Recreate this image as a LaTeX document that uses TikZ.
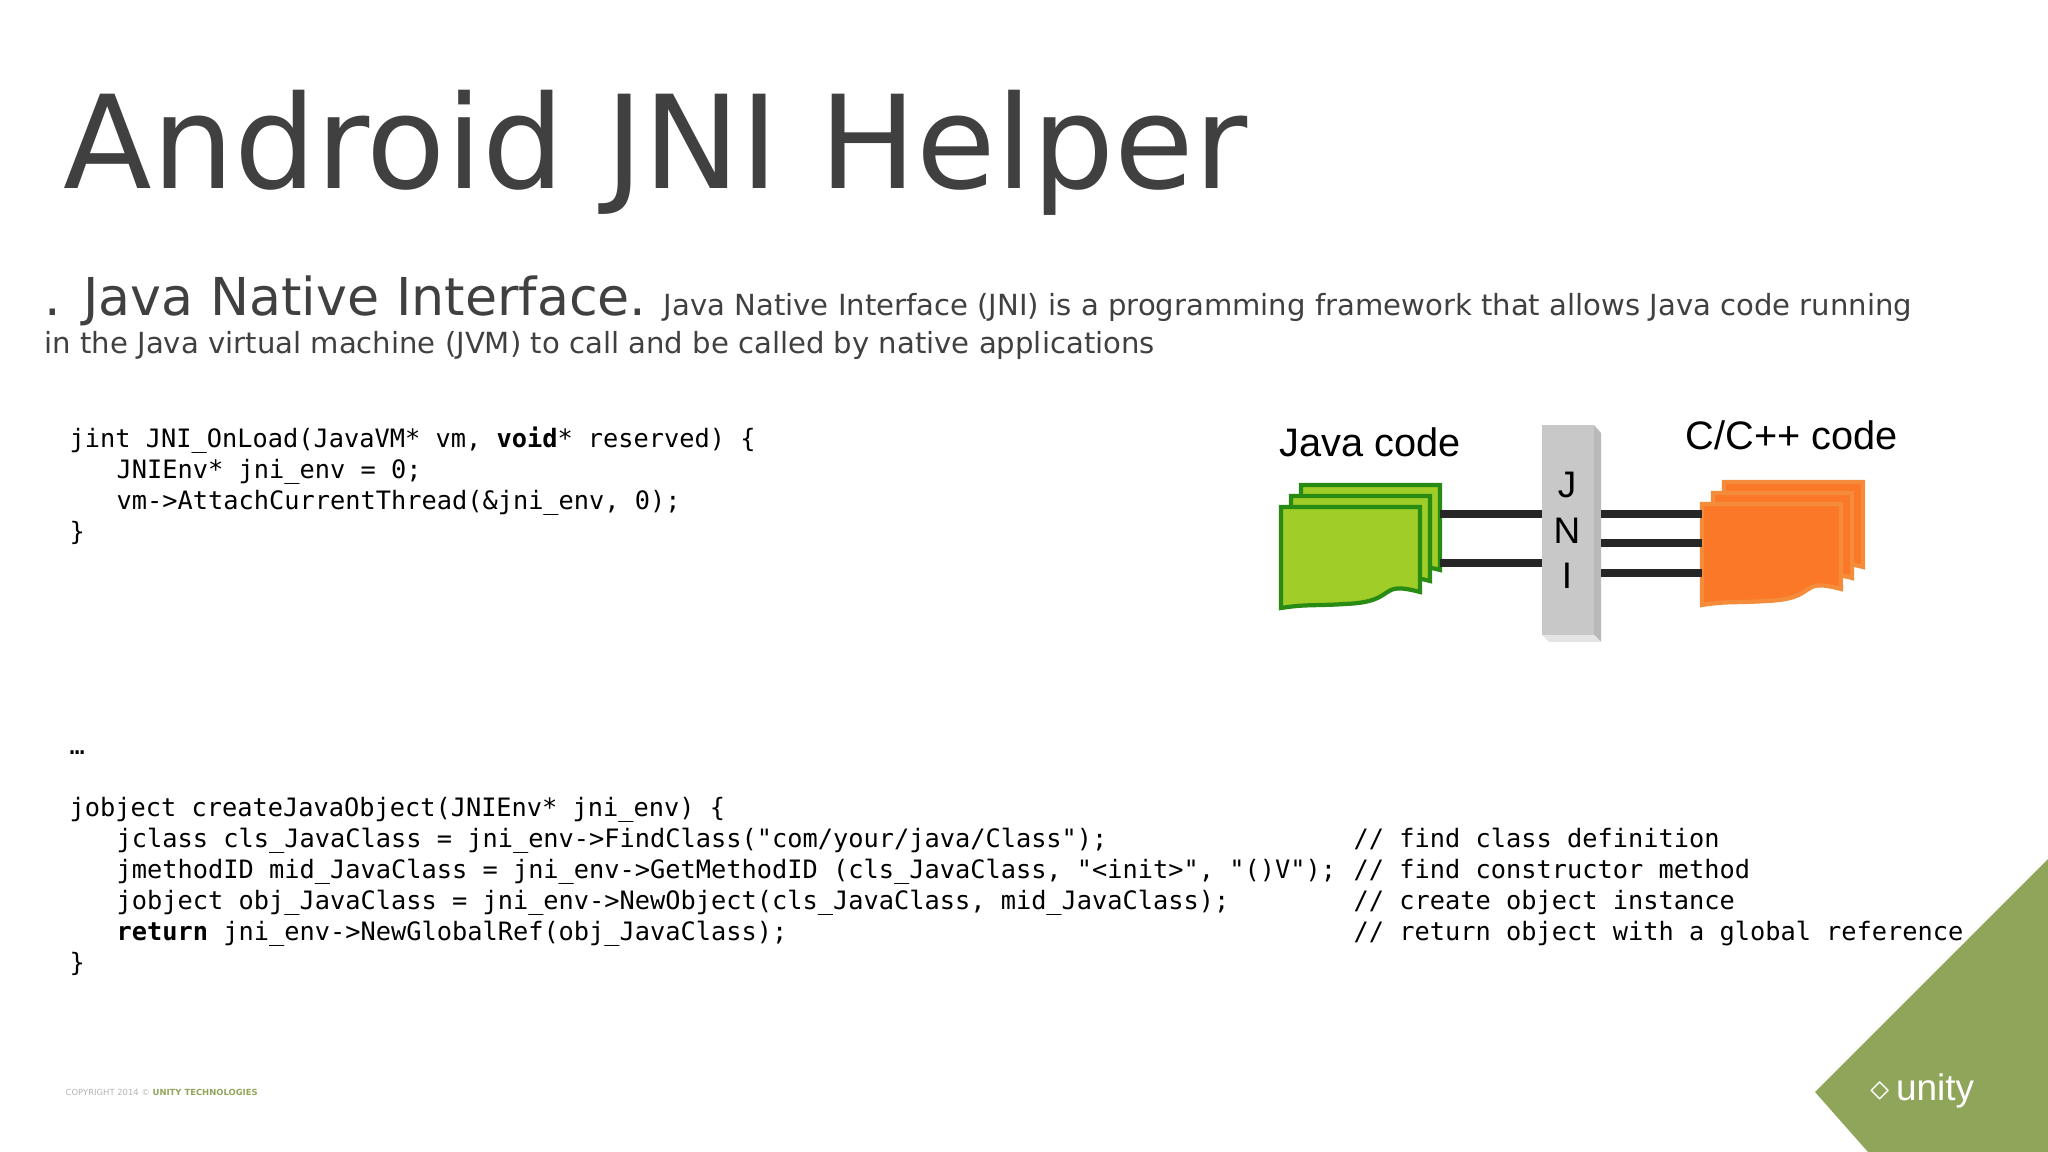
\documentclass[tikz,border=0pt]{standalone}
\usepackage{fontspec}
\setmainfont{DejaVu Sans}
\setmonofont{DejaVu Sans Mono}
\newfontfamily\arialfont{Liberation Sans}
\definecolor{titlegray}{RGB}{64,64,64}
\definecolor{javagreen}{RGB}{160,205,40}
\definecolor{javaedge}{RGB}{40,140,20}
\definecolor{cppfill}{RGB}{250,120,40}
\definecolor{cppedge}{RGB}{245,140,60}
\definecolor{barfill}{RGB}{200,200,200}
\definecolor{unitygreen}{RGB}{143,166,90}
\usetikzlibrary{positioning}

% one sheet of a code stack: left x, top y
\newcommand{\docsheet}[4]{%
  \draw[#3, fill=#4, line width=1.2pt] (#1,#2) -- ++(139,0) -- ++(0,85)
    .. controls ++(-45,-12) and ++(55,-2) .. ++(-75,12)
    .. controls ++(-30,2) and ++(25,-4) .. ++(-64,4) -- cycle;}

\begin{document}
\begin{tikzpicture}[x=0.01cm, y=-0.01cm,
  txt/.style={anchor=base west, inner sep=0pt, text=titlegray},
  code/.style={anchor=base west, inner sep=0pt, font=\ttfamily\fontsize{7.2}{8}\selectfont},
  link/.style={line width=2.4pt, black!85},
  barletter/.style={font=\arialfont\fontsize{10.5}{12}\selectfont}]
  \useasboundingbox (0,0) rectangle (2048,1152);

  % title and intro
  \node[txt, font=\fontsize{36.8}{40}\selectfont] (title) at (63,189) {Android JNI Helper};
  \node[txt, font=\fontsize{14.85}{18}\selectfont] (jni) at (44,316) {. Java Native Interface.};
  \node[txt, font=\fontsize{8.28}{10}\selectfont] (intro1) at (663,316)
    {Java Native Interface (JNI) is a programming framework that allows Java code running};
  \node[txt, font=\fontsize{8.28}{10}\selectfont] (intro2) at (44,354)
    {in the Java virtual machine (JVM) to call and be called by native applications};

  % code
  \node[code] (l1) at (69,448) {jint JNI\_OnLoad(JavaVM* vm, \textbf{void}* reserved) \{};
  \node[code] (l2) at (116,479) {JNIEnv* jni\_env = 0;};
  \node[code] (l3) at (116,510) {vm->AttachCurrentThread(\&jni\_env, 0);};
  \node[code] (l4) at (69,541) {\}};
  \node[code] (dots) at (69,754) {\ldots};
  \node[code] (m1) at (69,816) {jobject createJavaObject(JNIEnv* jni\_env) \{};
  \node[code] (m2) at (116,847) {jclass cls\_JavaClass = jni\_env->FindClass("com/your/java/Class");};
  \node[code] (m3) at (116,878) {jmethodID mid\_JavaClass = jni\_env->GetMethodID (cls\_JavaClass, "<init>", "()V");};
  \node[code] (m4) at (116,909) {jobject obj\_JavaClass = jni\_env->NewObject(cls\_JavaClass, mid\_JavaClass);};
  \node[code] (m5) at (116,940) {\textbf{return} jni\_env->NewGlobalRef(obj\_JavaClass);};
  \node[code] (m6) at (69,971) {\}};
  \node[code] (c2) at (1353,847) {// find class definition};
  \node[code] (c3) at (1353,878) {// find constructor method};
  \node[code] (c4) at (1353,909) {// create object instance};
  \node[code] (c5) at (1353,940) {// return object with a global reference};

  % JNI diagram
  \node[anchor=base west, inner sep=0pt, font=\arialfont\fontsize{11.3}{14}\selectfont] (javalbl) at (1279,457) {Java code};
  \node[anchor=base west, inner sep=0pt, font=\arialfont\fontsize{11.3}{14}\selectfont] (cpplbl) at (1685,450) {C/C++ code};
  \foreach \i in {2,1,0}
    \docsheet{1281+10*\i}{507-11*\i}{javaedge}{javagreen};
  \foreach \i in {2,1,0}
    \docsheet{1702+11*\i}{504-11*\i}{cppedge}{cppfill};
  \fill[gray!55] (1594,425) -- (1601,433) -- (1601,642) -- (1594,635) -- cycle;
  \fill[gray!20] (1542,635) -- (1594,635) -- (1601,642) -- (1549,642) -- cycle;
  \fill[barfill] (1542,425) rectangle (1594,635);
  \node[barletter] (barj) at (1567,485) {J};
  \node[barletter] (barn) at (1567,531) {N};
  \node[barletter] (bari) at (1567,576) {I};
  \coordinate (jl1) at (1440,514); \coordinate (bl1) at (1542,514);
  \coordinate (jl2) at (1440,563); \coordinate (bl2) at (1542,563);
  \draw[link] (jl1) -- (bl1);
  \draw[link] (jl2) -- (bl2);
  \foreach \y in {514,543,573} {
    \coordinate (br) at (1601,\y); \coordinate (cl) at (1702,\y);
    \draw[link] (br) -- (cl);
  }

  % footer
  \fill[unitygreen] (2048,859) -- (1815,1092) -- (1868,1152) -- (2048,1152) -- cycle;
  \node[anchor=base west, inner sep=0pt, text=white, font=\arialfont\fontsize{10.5}{12}\selectfont] (unity) at (1870,1100) {$\diamond$\,unity};
  \node[anchor=base west, inner sep=0pt, text=gray!60, font=\fontsize{2.4}{3}\selectfont] (copy) at (65,1095)
    {COPYRIGHT 2014 © \textcolor{unitygreen}{\bfseries UNITY TECHNOLOGIES}};
\end{tikzpicture}
\end{document}
